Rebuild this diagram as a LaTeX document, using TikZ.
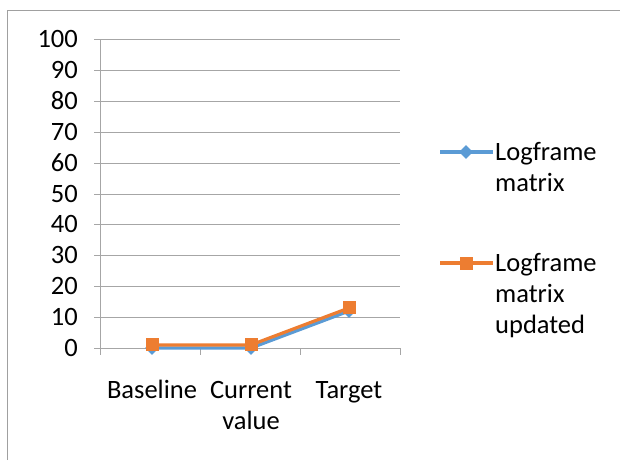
\documentclass[tikz,border=0pt]{standalone}
\usepackage{fontspec}
\setmainfont{Carlito}
\usetikzlibrary{shapes.geometric}
\definecolor{lfblue}{HTML}{5B9BD5}
\definecolor{lforange}{HTML}{ED7D31}
\definecolor{gridgray}{HTML}{A6A6A6}
\definecolor{framegray}{HTML}{A0A0A0}

\begin{document}
\begin{tikzpicture}[
        x=1pt, y=-1pt,
        every node/.style={
        font=\fontsize{26.5}{31}\selectfont,
        inner sep=0pt,
        },
        gridline/.style={draw=gridgray, line width=1pt},
        bluemark/.style={shape=diamond, fill=lfblue, minimum size=14pt},
        orangemark/.style={shape=rectangle, fill=lforange, minimum size=13pt},
        blueline/.style={draw=lfblue, line width=3.2pt},
        orangeline/.style={draw=lforange, line width=3.2pt},
      ]
        \useasboundingbox (0, 0) rectangle (620, 460);
        \draw[framegray, line width=1pt] (7, 460) -- (7, 11) -- (620, 11);

        % value axis and grid
        \foreach \v in {0, 10, ..., 100} {
          \draw[gridline] (94, 348-3.08*\v) -- (400, 348-3.08*\v);
          \node[anchor=base east] (ylab\v) at (78, 356-3.08*\v) {\v};
        }
        \draw[gridline] (100, 40) -- (100, 355);
        \draw[gridline] (200, 348) -- (200, 355);
        \draw[gridline] (300, 348) -- (300, 355);
        \draw[gridline] (400, 348) -- (400, 355);

        % categories
        \node[anchor=base] (base) at (152, 398) {Baseline};
        \node[anchor=base] (curr) at (251, 398) {Current};
        \node[anchor=base] (currv) at (251, 429) {value};
        \node[anchor=base] (targ) at (349, 398) {Target};

        % Logframe matrix
        \node[bluemark] (b1) at (152, 348) {};
        \node[bluemark] (b2) at (251, 348) {};
        \node[bluemark] (b3) at (349, 348-3.08*12) {};
        \draw[blueline] (b1.center) -- (b2.center) -- (b3.center);

        % Logframe matrix updated
        \draw[orangeline] (152, 348-3.08*1) coordinate (o1)
          -- (251, 348-3.08*1) coordinate (o2)
          -- (349, 348-3.08*13) coordinate (o3);
        \node[orangemark] (o1m) at (o1) {};
        \node[orangemark] (o2m) at (o2) {};
        \node[orangemark] (o3m) at (o3) {};

        % legend
        \coordinate (lb1) at (440, 152);
        \coordinate (lb2) at (493, 152);
        \draw[blueline] (lb1) -- (lb2);
        \node[bluemark] (lbm) at (466, 152) {};
        \node[anchor=base west] (lbt1) at (495, 160) {Logframe};
        \node[anchor=base west] (lbt2) at (495, 191) {matrix};

        \coordinate (lo1) at (440, 263);
        \coordinate (lo2) at (493, 263);
        \draw[orangeline] (lo1) -- (lo2);
        \node[orangemark] (lom) at (466, 263) {};
        \node[anchor=base west] (lot1) at (495, 271) {Logframe};
        \node[anchor=base west] (lot2) at (495, 302) {matrix};
        \node[anchor=base west] (lot3) at (495, 333) {updated};
      \end{tikzpicture}
\end{document}
